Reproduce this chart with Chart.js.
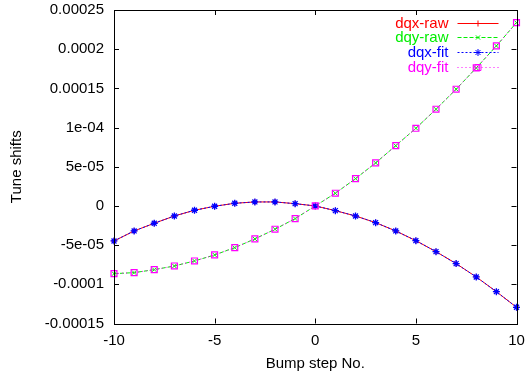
<!DOCTYPE html>
<html>
<head>
<meta charset="utf-8">
<script src="https://cdn.jsdelivr.net/npm/chart.js@4.4.0/dist/chart.umd.min.js"></script>
<style>
  html, body { margin: 0; padding: 0; background: #fff; }
</style>
</head>
<body>
<canvas id="myChart" width="527" height="372"></canvas>
<script>
// bump steps and tune shifts
const steps = [-10, -9, -8, -7, -6, -5, -4, -3, -2, -1, 0, 1, 2, 3, 4, 5, 6, 7, 8, 9, 10];
const dqxRaw = [-4.47e-5, -3.19e-5, -2.21e-5, -1.28e-5, -0.55e-5, -0.04e-5, 0.34e-5, 0.51e-5, 0.51e-5, 0.29e-5, 0,
  -0.60e-5, -1.28e-5, -2.13e-5, -3.19e-5, -4.43e-5, -5.83e-5, -7.36e-5, -9.06e-5, -1.094e-4, -1.293e-4];
const dqyRaw = [-8.64e-5, -8.51e-5, -8.13e-5, -7.66e-5, -7.02e-5, -6.25e-5, -5.32e-5, -4.21e-5, -2.97e-5, -1.62e-5, 0,
  1.62e-5, 3.48e-5, 5.49e-5, 7.69e-5, 9.91e-5, 1.234e-4, 1.489e-4, 1.761e-4, 2.042e-4, 2.339e-4];
const dqxFit = [-4.47e-5, -3.19e-5, -2.21e-5, -1.28e-5, -0.55e-5, -0.04e-5, 0.34e-5, 0.51e-5, 0.51e-5, 0.29e-5, 0,
  -0.60e-5, -1.28e-5, -2.13e-5, -3.19e-5, -4.43e-5, -5.83e-5, -7.36e-5, -9.06e-5, -1.094e-4, -1.293e-4];
const dqyFit = [-8.64e-5, -8.51e-5, -8.13e-5, -7.66e-5, -7.02e-5, -6.25e-5, -5.32e-5, -4.21e-5, -2.97e-5, -1.62e-5, 0,
  1.62e-5, 3.48e-5, 5.49e-5, 7.69e-5, 9.91e-5, 1.234e-4, 1.489e-4, 1.761e-4, 2.042e-4, 2.339e-4];

const xTicks = [-10, -5, 0, 5, 10];
const xTickLabels = ['-10', '-5', '0', '5', '10'];
const yTicks = [-0.00015, -0.0001, -0.00005, 0, 0.00005, 0.0001, 0.00015, 0.0002, 0.00025];
const yTickLabels = ['-0.00015', '-0.0001', '-5e-05', '0', '5e-05', '1e-04', '0.00015', '0.0002', '0.00025'];

const FONT = "'Liberation Sans', Arial, sans-serif";
Chart.defaults.color = '#000';
Chart.defaults.font.family = FONT;
Chart.defaults.font.size = 15;

function toPoints(arr) {
  return steps.map((s, i) => ({ x: s, y: arr[i] }));
}

// gnuplot style frame with inward ticks on all sides
const frame = {
  id: 'frame',
  afterDatasetsDraw(chart) {
    const { ctx, chartArea: a, scales } = chart;
    ctx.save();
    ctx.strokeStyle = '#000';
    ctx.lineWidth = 1;
    ctx.beginPath();
    xTicks.forEach(v => {
      const px = Math.round(scales.x.getPixelForValue(v)) + 0.5;
      ctx.moveTo(px, a.bottom); ctx.lineTo(px, a.bottom - 5);
      ctx.moveTo(px, a.top); ctx.lineTo(px, a.top + 5);
    });
    yTicks.forEach(v => {
      const py = Math.round(scales.y.getPixelForValue(v)) + 0.5;
      ctx.moveTo(a.left, py); ctx.lineTo(a.left + 5, py);
      ctx.moveTo(a.right, py); ctx.lineTo(a.right - 5, py);
    });
    ctx.stroke();
    ctx.strokeRect(Math.round(a.left) + 0.5, Math.round(a.top) + 0.5,
      Math.round(a.right - a.left), Math.round(a.bottom - a.top));
    ctx.restore();
  }
};

// legend drawn like gnuplot's key: text right aligned, sample to the right
const key = {
  id: 'key',
  afterDraw(chart) {
    const { ctx, chartArea: a } = chart;
    const textRight = a.right - 68;
    const lineL = a.right - 59, lineR = a.right - 18;
    ctx.save();
    ctx.font = '15px ' + FONT;
    ctx.textAlign = 'right';
    ctx.textBaseline = 'middle';
    chart.data.datasets.forEach((ds, i) => {
      const y = a.top + 12.5 + i * 14.8;
      ctx.fillStyle = ds.borderColor;
      ctx.fillText(ds.label, textRight, y + 1);
      ctx.strokeStyle = ds.borderColor;
      ctx.lineWidth = 1;
      ctx.setLineDash(ds.borderDash || []);
      ctx.beginPath();
      ctx.moveTo(lineL, Math.round(y) + 0.5);
      ctx.lineTo(lineR, Math.round(y) + 0.5);
      ctx.stroke();
      ctx.setLineDash([]);
      ctx.fillStyle = ds.pointBackgroundColor;
      Chart.helpers.drawPoint(ctx, {
        pointStyle: ds.pointStyle, radius: ds.pointRadius, rotation: 0, borderWidth: 1
      }, (lineL + lineR) / 2, Math.round(y) + 0.5);
    });
    ctx.restore();
  }
};

new Chart(document.getElementById('myChart'), {
  type: 'line',
  data: {
    datasets: [
      {
        label: 'dqx-raw',
        data: toPoints(dqxRaw),
        borderColor: '#ff0000',
        pointBorderColor: '#ff0000',
        pointBackgroundColor: '#ff0000',
        borderWidth: 1,
        pointStyle: 'cross',
        pointRadius: 3,
        pointBorderWidth: 1,
        order: 4,
      },
      {
        label: 'dqy-raw',
        data: toPoints(dqyRaw),
        borderColor: '#00ee00',
        pointBorderColor: '#00ee00',
        pointBackgroundColor: '#00ee00',
        borderWidth: 1,
        borderDash: [4, 2],
        pointStyle: 'crossRot',
        pointRadius: 3,
        pointBorderWidth: 1,
        order: 3,
      },
      {
        label: 'dqx-fit',
        data: toPoints(dqxFit),
        borderColor: '#0000ff',
        pointBorderColor: '#0000ff',
        pointBackgroundColor: '#0000ff',
        borderWidth: 1,
        borderDash: [2, 2],
        pointStyle: 'star',
        pointRadius: 3.5,
        pointBorderWidth: 1.3,
        order: 2,
      },
      {
        label: 'dqy-fit',
        data: toPoints(dqyFit),
        borderColor: '#ff00ff',
        pointBorderColor: '#ff00ff',
        pointBackgroundColor: 'rgba(0,0,0,0)',
        borderWidth: 1,
        borderDash: [1, 3],
        pointStyle: 'rect',
        pointRadius: 4.2,
        pointBorderWidth: 1.2,
        order: 1,
      },
    ],
  },
  options: {
    responsive: false,
    animation: false,
    clip: false,
    layout: { autoPadding: false, padding: { top: 10, right: 10.5, left: 0, bottom: 0 } },
    plugins: {
      legend: { display: false },
      tooltip: { enabled: false },
    },
    elements: { line: { tension: 0 } },
    scales: {
      x: {
        type: 'linear',
        min: -10,
        max: 10,
        afterBuildTicks: s => { s.ticks = xTicks.map(v => ({ value: v })); },
        afterFit: s => { s.height = 48.5; s.paddingLeft = 0; s.paddingRight = 0; },
        grid: { display: false, drawTicks: false },
        border: { display: false },
        ticks: {
          padding: 8,
          maxRotation: 0,
          callback: (v, i) => xTickLabels[i],
        },
        title: { display: true, text: 'Bump step No.', padding: { top: -1, bottom: -1 } },
      },
      y: {
        type: 'linear',
        min: -0.00015,
        max: 0.00025,
        afterBuildTicks: s => { s.ticks = yTicks.map(v => ({ value: v })); },
        afterFit: s => { s.width = 114; s.paddingTop = 0; s.paddingBottom = 0; },
        grid: { display: false, drawTicks: false },
        border: { display: false },
        ticks: {
          padding: 10,
          callback: (v, i) => yTickLabels[i],
        },
        title: { display: true, text: 'Tune shifts', padding: { top: 8, bottom: 8 } },
      },
    },
  },
  plugins: [frame, key],
});
</script>
</body>
</html>
